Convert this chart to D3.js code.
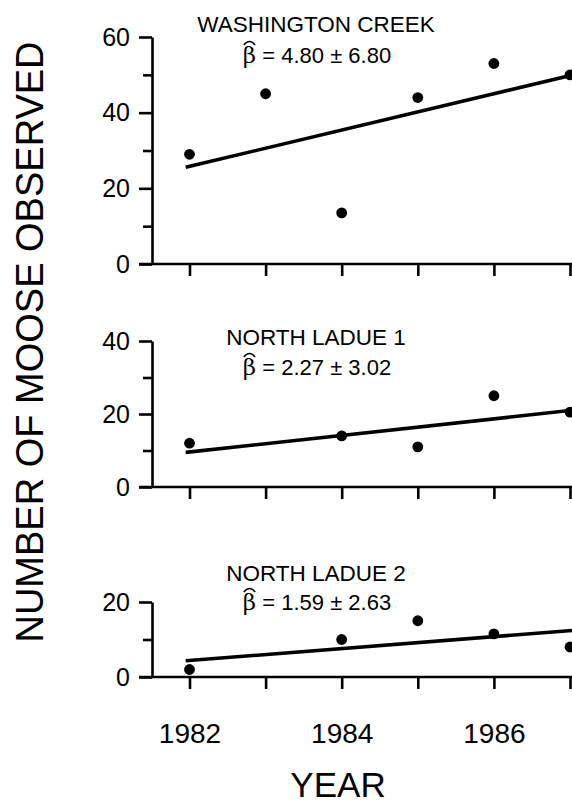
<!DOCTYPE html>
<html>
<head>
<meta charset="utf-8">
<script src="https://cdn.jsdelivr.net/npm/d3@7"></script>
<style>
  html, body { margin: 0; padding: 0; background: #fff; }
  svg { display: block; font-family: "Liberation Sans", Arial, sans-serif; }
</style>
</head>
<body>
<svg id="chart" width="572" height="805"></svg>
<script>
// data
const years = [1982, 1983, 1984, 1985, 1986, 1987];
const siteNames = ["WASHINGTON CREEK", "NORTH LADUE 1", "NORTH LADUE 2"];
const washingtonCreek = [29, 45, 13.5, 44, 53, 50];
const northLadue1 = [12, null, 14, 11, 25, 20.5];
const northLadue2 = [2, null, 10, 15, 11.5, 8];
const betaText = ["4.80 \u00b1 6.80", "2.27 \u00b1 3.02", "1.59 \u00b1 2.63"];
const slopes = [4.80, 2.27, 1.59];
const fitAt1982 = [25.8, 9.6, 4.4];
const yMax = [60, 40, 20];
const yearLabels = [1982, 1984, 1986];

const series = [washingtonCreek, northLadue1, northLadue2];

const W = 572;
const axisX = 152;
// panel layout (pixels)
const panels = [
	{ top: 37, zero: 264, titleY: 32, betaY: 63 },
	{ top: 341, zero: 487, titleY: 345, betaY: 375 },
	{ top: 602, zero: 677, titleY: 581, betaY: 610 }
];

const svg = d3.select("#chart");

let x = d3.scaleLinear()
	.domain([1982, 1987])
	.range([189.5, 570]);

panels.forEach((p, i) => {
	let y = d3.scaleLinear()
		.domain([0, yMax[i]])
		.range([p.zero, p.top]);

	let g = svg.append("g").attr("class", "panel");

	// minor ticks
	let minor = d3.range(10, yMax[i], 20);
	g.append("g")
		.attr("transform", "translate(" + axisX + ",0)")
		.call(d3.axisLeft(y).tickValues(minor).tickSize(9).tickSizeOuter(0).tickFormat(""))
		.call(a => a.select(".domain").remove());

	// major ticks + labels
	g.append("g")
		.attr("class", "yaxis")
		.attr("transform", "translate(" + axisX + ",0)")
		.call(d3.axisLeft(y).tickValues(d3.range(0, yMax[i] + 1, 20)).tickSize(13).tickSizeOuter(0).tickPadding(9));

	// x axis line and ticks
	g.append("line")
		.attr("x1", axisX - 13)
		.attr("x2", W + 5)
		.attr("y1", y(0))
		.attr("y2", y(0))
		.attr("stroke", "#000")
		.attr("stroke-width", 2.6);

	let xa = d3.axisBottom(x).tickValues(years).tickSize(12).tickSizeOuter(0).tickPadding(34)
		.tickFormat(d => (i === 2 && yearLabels.includes(d)) ? d : "");
	g.append("g")
		.attr("class", "xaxis")
		.attr("transform", "translate(0," + y(0) + ")")
		.call(xa)
		.call(a => a.select(".domain").remove());

	// regression line
	let fit = yr => fitAt1982[i] + slopes[i] * (yr - 1982);
	g.append("path")
		.datum([1981.95, 1987.2])
		.attr("fill", "none")
		.attr("stroke", "#000")
		.attr("stroke-width", 3.6)
		.attr("d", d3.line().x(d => x(d)).y(d => y(fit(d))));

	// observations
	let pts = years.map((yr, k) => ({ yr: yr, v: series[i][k] })).filter(d => d.v != null);
	g.selectAll("circle")
		.data(pts)
		.enter()
		.append("circle")
		.attr("cx", d => x(d.yr))
		.attr("cy", d => y(d.v))
		.attr("r", 5.4)
		.attr("fill", "#000");

	// titles
	g.append("text")
		.attr("x", 316)
		.attr("y", p.titleY)
		.attr("text-anchor", "middle")
		.attr("font-size", 22.5)
		.text(siteNames[i]);

	let bt = g.append("text")
		.attr("x", 317)
		.attr("y", p.betaY)
		.attr("text-anchor", "middle")
		.attr("font-size", 22);
	bt.append("tspan")
		.attr("font-family", "'DejaVu Serif', serif")
		.attr("font-size", 23)
		.text("\u03b2");
	bt.append("tspan").text(" = " + betaText[i]);

	// hat over beta
	let ext = bt.node().getExtentOfChar(0);
	let hx0 = ext.x + 1, hx1 = ext.x + ext.width - 1;
	let hy = p.betaY - 21;
	g.append("path")
		.attr("fill", "none")
		.attr("stroke", "#000")
		.attr("stroke-width", 1.4)
		.attr("d", "M" + hx0 + "," + (hy + 3) + "Q" + ((hx0 + hx1) / 2) + "," + (hy - 4) + " " + hx1 + "," + (hy + 3));
});

svg.selectAll(".tick line").attr("stroke", "#000").attr("stroke-width", 2.6);
svg.selectAll(".yaxis .domain").attr("stroke", "#000").attr("stroke-width", 2.6);
svg.selectAll(".yaxis text").attr("font-size", 25).attr("font-family", "'Liberation Sans', Arial, sans-serif").attr("fill", "#000");
svg.selectAll(".xaxis text").attr("font-size", 28).attr("font-family", "'Liberation Sans', Arial, sans-serif").attr("fill", "#000");

// axis titles
svg.append("text")
	.attr("transform", "translate(43,342) rotate(-90)")
	.attr("text-anchor", "middle")
	.attr("font-size", 38)
	.text("NUMBER OF MOOSE OBSERVED");

svg.append("text")
	.attr("x", 338)
	.attr("y", 797)
	.attr("text-anchor", "middle")
	.attr("font-size", 35)
	.text("YEAR");
</script>
</body>
</html>
